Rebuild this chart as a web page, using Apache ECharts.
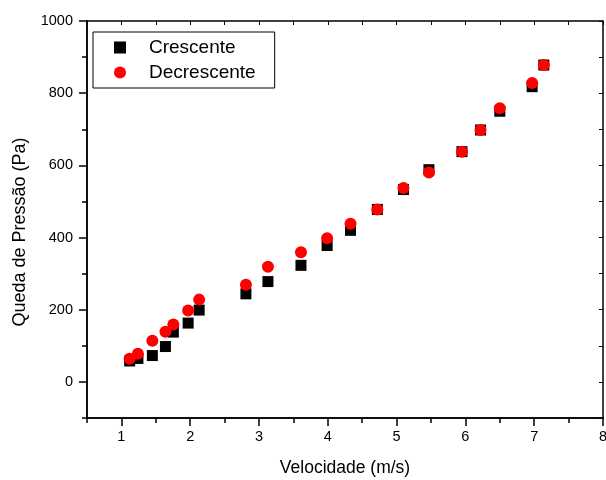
<!DOCTYPE html>
<html>
<head>
<meta charset="utf-8">
<script src="https://cdn.jsdelivr.net/npm/echarts@6/dist/echarts.min.js"></script>
<style>html,body{margin:0;padding:0;background:#fff}#c{width:606px;height:480px}</style>
</head>
<body>
<div id="c"></div>
<script>
const crescenteX = [1.12, 1.24, 1.45, 1.64, 1.755, 1.97, 2.13, 2.81, 3.13, 3.61, 3.99, 4.33, 4.72, 5.10, 5.47, 5.95, 6.22, 6.50, 6.97, 7.14];
const crescenteY = [58, 65, 73, 98, 138, 163, 199, 244, 278, 323, 378, 420, 478, 533, 588, 638, 698, 750, 818, 878];
const decrescenteX = [1.12, 1.24, 1.45, 1.64, 1.755, 1.97, 2.13, 2.81, 3.13, 3.61, 3.99, 4.33, 4.72, 5.10, 5.47, 5.95, 6.22, 6.50, 6.97, 7.14];
const decrescenteY = [64, 78, 114, 139, 159, 198, 228, 269, 319, 359, 398, 438, 478, 537, 580, 638, 698, 758, 828, 878];
const xMajorTicks = [1, 2, 3, 4, 5, 6, 7, 8];
const xMinorTicks = [0.5, 1.5, 2.5, 3.5, 4.5, 5.5, 6.5, 7.5];
const yMajorTicks = [0, 200, 400, 600, 800, 1000];
const yMinorTicks = [-100, 100, 300, 500, 700, 900];
const xName = 'Velocidade (m/s)';
const yName = 'Queda de Pressão (Pa)';
const seriesNames = ['Crescente', 'Decrescente'];

const FONT = 'Liberation Sans, Arial, sans-serif';
const X_MIN = 0.5, X_MAX = 8, Y_MIN = -100, Y_MAX = 1000;
const lineStyle = {color: '#000', width: 1.5};

function xAx(extra) {
  return Object.assign({
    type: 'value', min: X_MIN, max: X_MAX, gridIndex: 0,
    axisLine: {show: true, onZero: false, lineStyle},
    splitLine: {show: false},
    axisLabel: {show: false},
    axisTick: {show: false}
  }, extra);
}
function yAx(extra) {
  return Object.assign({
    type: 'value', min: Y_MIN, max: Y_MAX, gridIndex: 0,
    axisLine: {show: true, onZero: false, lineStyle},
    splitLine: {show: false},
    axisLabel: {show: false},
    axisTick: {show: false}
  }, extra);
}

const chart = echarts.init(document.getElementById('c'), null, {renderer: 'canvas'});
chart.setOption({
  animation: false,
  backgroundColor: '#fff',
  textStyle: {fontFamily: FONT},
  grid: {left: 87, right: 3, top: 21, bottom: 62, containLabel: false, outerBoundsMode: 'none'},
  legend: {
    orient: 'vertical', left: 93, top: 32,
    data: seriesNames,
    borderColor: '#000', borderWidth: 1, borderRadius: 0,
    padding: [6, 19, 6, 21],
    itemWidth: 12, itemHeight: 12, itemGap: 6,
    textStyle: {fontFamily: FONT, fontSize: 19, color: '#000', padding: [0, 0, 0, 18]}
  },
  xAxis: [
    xAx({position: 'bottom', name: xName, nameLocation: 'middle', nameGap: 41,
      nameTextStyle: {fontFamily: FONT, fontSize: 17.5, color: '#000'},
      axisTick: {show: true, length: 8, lineStyle, customValues: xMajorTicks},
      axisLabel: {show: true, fontFamily: FONT, fontSize: 14.5, color: '#000', margin: 11, customValues: xMajorTicks,
        formatter: v => String(v)}}),
    xAx({position: 'bottom',
      axisTick: {show: true, length: 5, lineStyle, customValues: xMinorTicks}}),
    xAx({position: 'top',
      axisTick: {show: true, inside: true, length: 4, lineStyle: {color: '#000', width: 1}, customValues: xMinorTicks.concat(xMajorTicks)}})
  ],
  yAxis: [
    yAx({position: 'left', name: yName, nameLocation: 'middle', nameGap: 58, nameRotate: 90,
      nameTextStyle: {fontFamily: FONT, fontSize: 18, color: '#000', padding: [0, 25, 0, 0]},
      axisTick: {show: true, length: 8, lineStyle, customValues: yMajorTicks},
      axisLabel: {show: true, fontFamily: FONT, fontSize: 14.5, color: '#000', margin: 14, customValues: yMajorTicks,
        formatter: v => String(v)}}),
    yAx({position: 'left',
      axisTick: {show: true, length: 5, lineStyle, customValues: yMinorTicks}}),
    yAx({position: 'right',
      axisTick: {show: true, inside: true, length: 4, lineStyle: {color: '#000', width: 1}, customValues: yMinorTicks.concat(yMajorTicks)}})
  ],
  series: [
    {name: seriesNames[0], type: 'scatter', xAxisIndex: 0, yAxisIndex: 0, symbol: 'rect', symbolSize: 11,
      itemStyle: {color: '#000', opacity: 1},
      data: crescenteX.map((x, i) => [x, crescenteY[i]])},
    {name: seriesNames[1], type: 'scatter', xAxisIndex: 0, yAxisIndex: 0, symbol: 'circle', symbolSize: 12,
      itemStyle: {color: '#ff0000', opacity: 1},
      data: decrescenteX.map((x, i) => [x, decrescenteY[i]])}
  ]
});
</script>
</body>
</html>
